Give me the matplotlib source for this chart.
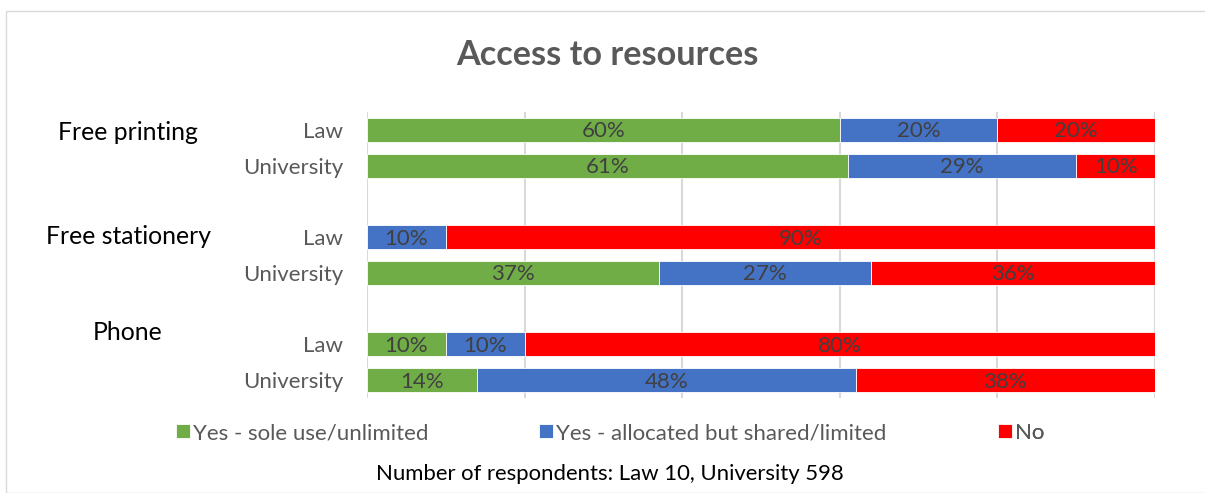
import matplotlib
matplotlib.use("Agg")
import matplotlib.pyplot as plt
from matplotlib.patches import Rectangle

plt.rcParams['font.family'] = ['Lato', 'DejaVu Sans']

groups = ["Free printing", "Free stationery", "Phone"]
respondents = ["Law", "University"]
series = ["Yes - sole use/unlimited", "Yes - allocated but shared/limited", "No"]
# rows: Law / University for each group, in order
sole_use = [60, 61, 0, 37, 10, 14]
shared = [20, 29, 10, 27, 10, 48]
no_access = [20, 10, 90, 36, 80, 38]
colors = ["#70AD47", "#4472C4", "#FF0000"]

W, H = 1205, 493
fig = plt.figure(figsize=(W / 100, H / 100), dpi=100)

# chart border
fig.patches.append(Rectangle((6 / W, 0), 1.2, 1 - 11 / H, transform=fig.transFigure,
                             fill=False, edgecolor="#D9D9D9", lw=1.0))

ax = fig.add_axes([367 / W, 1 - 398 / H, (1155 - 367) / W, (398 - 112) / H])

# each group takes three slots: Law, University, gap
ypos = []
for g in range(len(groups)):
    ypos += [3 * g, 3 * g + 1]

left = [0] * len(ypos)
containers = []
for vals, col, name in zip([sole_use, shared, no_access], colors, series):
    bars = ax.barh(ypos, vals, left=left, height=0.67, color=col,
                   edgecolor="white", linewidth=0.6, label=name, zorder=3)
    containers.append(bars)
    for y, l, v in zip(ypos, left, vals):
        if v > 0:
            ax.text(l + v / 2, y + 0.04, f"{v}%", ha="center", va="center",
                    fontsize=16, color="#404040", zorder=4)
    left = [a + b for a, b in zip(left, vals)]

ax.set_xlim(0, 100)
ax.set_ylim(7.5, -0.5)
ax.set_xticks([0, 20, 40, 60, 80, 100])
ax.xaxis.grid(True, color="#D9D9D9", lw=1.5, zorder=0)
ax.tick_params(axis="x", length=0, labelbottom=False)
ax.set_yticks(ypos)
ax.set_yticklabels(respondents * len(groups), fontsize=16, color="#595959")
ax.tick_params(axis="y", length=0, pad=17)
for s in ax.spines.values():
    s.set_visible(False)

# group labels
for label, (x, y) in zip(groups, [(128, 132), (128, 237), (128, 333)]):
    fig.text(x / W, 1 - y / H, label, ha="center", va="center", fontsize=17.8, color="black")

fig.text(607 / W, 1 - 55 / H, "Access to resources", ha="center", va="center",
         fontsize=24.7, fontweight="bold", color="#595959")

# legend entries placed individually
for bars, name, x in zip(containers, series, [176, 539, 998]):
    leg = ax.legend([bars], [name], loc="center left", frameon=False,
                    bbox_to_anchor=(x / W, 1 - 433 / H), bbox_transform=fig.transFigure,
                    fontsize=16, handlelength=0.63, handleheight=0.63, handletextpad=0.15,
                    borderpad=0, borderaxespad=0, labelcolor="#595959")
    ax.add_artist(leg)

fig.text(610 / W, 1 - 474 / H, "Number of respondents: Law 10, University 598",
         ha="center", va="center", fontsize=15.9, color="black")

fig.savefig("out.png", dpi=100)
